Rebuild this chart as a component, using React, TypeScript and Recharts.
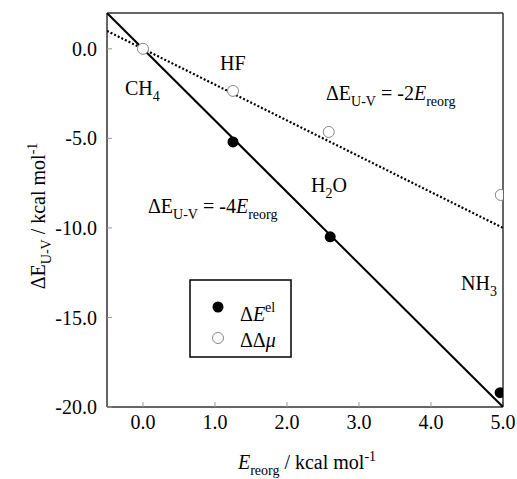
import { ComposedChart, Scatter, XAxis, YAxis } from "recharts"

const xTicks = [0, 1, 2, 3, 4, 5]
const yTicks = [0, -5, -10, -15, -20]

// ΔE^el (filled) and ΔΔμ (open) for HF, H2O, NH3 (CH4 at origin)
const elPoints = [
  { x: 1.25, y: -5.2 },
  { x: 2.6, y: -10.5 },
  { x: 4.96, y: -19.2 },
]
const muPoints = [
  { x: 0, y: 0 },
  { x: 1.25, y: -2.35 },
  { x: 2.58, y: -4.64 },
  { x: 4.97, y: -8.16 },
]
// guide lines ΔE = -4 Ereorg and ΔE = -2 Ereorg, end points
const fit4 = [
  { x: -0.5, y: 2 },
  { x: 5, y: -20 },
]
const fit2 = [
  { x: -0.5, y: 1 },
  { x: 5, y: -10 },
]

const W = 517
const H = 479
const FONT = '"Liberation Serif", "Times New Roman", Times, serif'
const frame = { stroke: "#333", strokeWidth: 1.5 }
const tickLine = { stroke: "#999" }
const tickText = { fill: "#000", fontSize: 20, style: { fontFamily: FONT } }

const fmt = (v: number) => v.toFixed(1)

const FilledDot = (p: any) => <circle cx={p.cx} cy={p.cy} r={5.5} fill="#000" />
const OpenDot = (p: any) => (
  <circle cx={p.cx} cy={p.cy} r={5.5} fill="#fff" stroke="#888" strokeWidth={1} />
)
const NoDot = () => <g />

function Annotations() {
  return (
    <svg
      width={W}
      height={H}
      style={{ position: "absolute", left: 0, top: 0, pointerEvents: "none", fontFamily: FONT }}
      fontSize={20}
    >
      <text x={125} y={95}>
        CH
        <tspan dy={6} fontSize={14}>4</tspan>
      </text>
      <text x={220} y={70}>HF</text>
      <text x={311} y={192}>
        H<tspan dy={6} fontSize={14}>2</tspan>
        <tspan dy={-6}>O</tspan>
      </text>
      <text x={461} y={290}>
        NH<tspan dy={6} fontSize={14}>3</tspan>
      </text>
      <text x={326} y={100}>
        ΔE<tspan dy={6} fontSize={14}>U-V</tspan>
        <tspan dy={-6}> = -2</tspan>
        <tspan fontStyle="italic">E</tspan>
        <tspan dy={6} fontSize={14}>reorg</tspan>
      </text>
      <text x={148} y={213}>
        ΔE<tspan dy={6} fontSize={14}>U-V</tspan>
        <tspan dy={-6}> = -4</tspan>
        <tspan fontStyle="italic">E</tspan>
        <tspan dy={6} fontSize={14}>reorg</tspan>
      </text>

      {/* axis titles */}
      <text x={307} y={469} textAnchor="middle">
        <tspan fontStyle="italic">E</tspan>
        <tspan dy={6} fontSize={14}>reorg</tspan>
        <tspan dy={-6}> / kcal mol</tspan>
        <tspan dy={-8} fontSize={14}>-1</tspan>
      </text>
      <text x={0} y={0} textAnchor="middle" transform="translate(45 216) rotate(-90)">
        ΔE<tspan dy={6} fontSize={14}>U-V</tspan>
        <tspan dy={-6}> / kcal mol</tspan>
        <tspan dy={-8} fontSize={14}>-1</tspan>
      </text>

      {/* legend */}
      <rect x={190} y={280} width={101} height={77} fill="#fff" stroke="#000" strokeWidth={1.5} />
      <circle cx={218} cy={307} r={5.5} fill="#000" />
      <circle cx={218} cy={338} r={5.5} fill="#fff" stroke="#888" />
      <text x={240} y={321}>
        Δ<tspan fontStyle="italic">E</tspan>
        <tspan dy={-9} fontSize={14}>el</tspan>
      </text>
      <text x={240} y={347}>
        ΔΔ<tspan fontStyle="italic">μ</tspan>
      </text>
    </svg>
  )
}

export default function App() {
  return (
    <div
      style={{
        position: "absolute",
        left: 0,
        top: 0,
        width: W,
        height: H,
        background: "#fff",
        fontFamily: FONT,
      }}
    >
      <ComposedChart width={W} height={H} margin={{ top: 0, right: 0, bottom: 0, left: 0 }}>
        <XAxis
          type="number"
          dataKey="x"
          domain={[-0.5, 5]}
          ticks={xTicks}
          tickFormatter={fmt}
          allowDataOverflow
          height={72}
          axisLine={frame}
          tickLine={tickLine}
          tickSize={-5}
          tickMargin={13}
          tick={tickText}
        />
        <XAxis
          xAxisId="top"
          orientation="top"
          type="number"
          domain={[-0.5, 5]}
          ticks={xTicks}
          allowDataOverflow
          height={13}
          axisLine={frame}
          tickLine={tickLine}
          tickSize={-5}
          tick={false}
        />
        <YAxis
          type="number"
          dataKey="y"
          domain={[-20, 2]}
          ticks={yTicks}
          tickFormatter={fmt}
          allowDataOverflow
          width={107}
          axisLine={frame}
          tickLine={tickLine}
          tickSize={-5}
          tickMargin={15}
          tick={tickText}
        />
        <YAxis
          yAxisId="right"
          orientation="right"
          type="number"
          domain={[-20, 2]}
          ticks={yTicks}
          allowDataOverflow
          width={14}
          axisLine={frame}
          tickLine={tickLine}
          tickSize={-5}
          tick={false}
        />
        <Scatter
          data={fit4}
          line={{ stroke: "#000", strokeWidth: 2 }}
          shape={NoDot}
          isAnimationActive={false}
        />
        <Scatter
          data={fit2}
          line={{ stroke: "#000", strokeWidth: 2.2, strokeDasharray: "2 2" }}
          shape={NoDot}
          isAnimationActive={false}
        />
        <Scatter data={elPoints} shape={FilledDot} isAnimationActive={false} />
        <Scatter data={muPoints} shape={OpenDot} isAnimationActive={false} />
      </ComposedChart>
      <Annotations />
    </div>
  )
}
